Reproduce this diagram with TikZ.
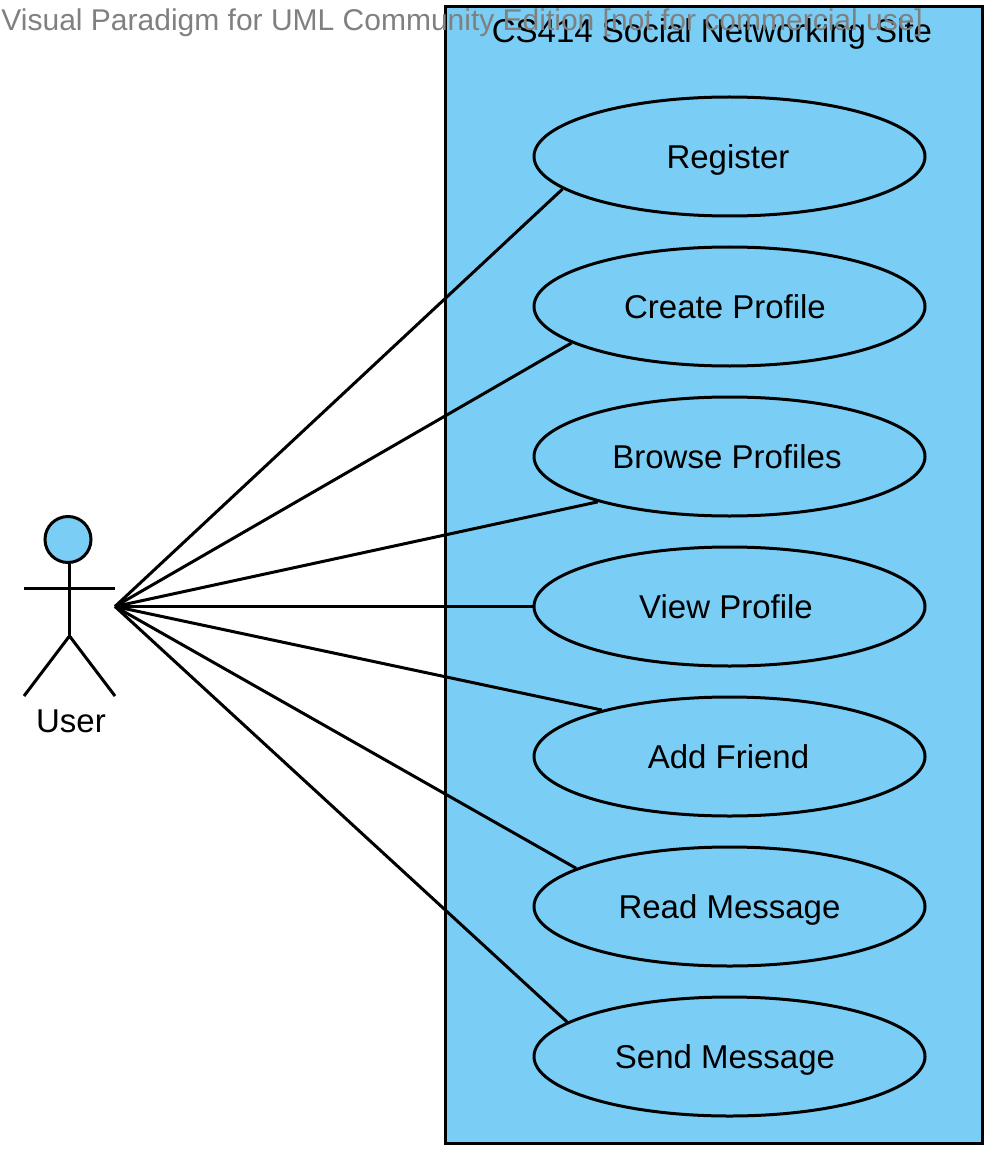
\documentclass[tikz,border=0pt]{standalone}
\usepackage{fontspec}
\setmainfont{Liberation Sans}
\usetikzlibrary{shapes.geometric}
\definecolor{usecaseblue}{RGB}{122,206,246}
\begin{document}
\begin{tikzpicture}
[x=1pt,y=-1pt,line width=3pt,
  systemdecorate/.style={draw,fill=usecaseblue,minimum width=537pt,minimum height=1136pt,inner sep=0pt},%
  usecasedecorate/.style={shape=ellipse,draw,fill=usecaseblue,minimum width=391pt,minimum height=119pt,inner sep=0pt},%
  headdecorate/.style={shape=circle,draw,fill=usecaseblue,minimum size=46pt,inner sep=0pt},%
  labeldecorate/.style={inner sep=0pt,anchor=base,font=\fontsize{33}{36}\selectfont},%
  linedecorate/.style={-}]
\useasboundingbox (0,0) rectangle (996,1158);
%% system boundary
\node (system) at (713.5,575) [systemdecorate] {};
\node (title) at (712,43) [labeldecorate] {CS414 Social Networking Site};
%% use cases
\foreach \nodename/\y/\dx/\text in {
  register/156.5/-1.5/Register, create/306.5/-4.5/Create Profile, browse/456.5/-2.5/Browse Profiles,
  view/606.5/-3.5/View Profile, add/756.5/-1/Add Friend, read/906.5/0/Read Message, send/1056.5/-4.5/Send Message}
{
  \node (\nodename) at (729.5,\y) [usecasedecorate] {};
  \node (\nodename text) at ([xshift=\dx pt,yshift=-12pt]\nodename.center) [labeldecorate] {\text};
}
%% actor
\node (head) at (68,539.5) [headdecorate] {};
\coordinate (hip) at (69.5,636);
\coordinate (armleft) at (24,588.5);
\coordinate (armright) at (115,588.5);
\coordinate (footleft) at (24,696);
\coordinate (footright) at (115,696);
\coordinate (hand) at (115,606.5);
\node (user) at (71,732) [labeldecorate] {User};
\draw (head.south -| hip) -- (hip);
\draw (armleft) -- (armright);
\draw (footleft) -- (hip) -- (footright);
%% edges or lines
\path
\foreach \endnode/\angle in {register/191.3, create/193.1, browse/199.2, view/180, add/160.8, read/166.9, send/168.7} {
  (hand) edge[linedecorate] (\endnode.\angle)
};
%% watermark
\node (watermark) at (0,31) [anchor=base west,inner sep=0pt,text=gray,font=\fontsize{30}{34}\selectfont] {Visual Paradigm for UML Community Edition [not for commercial use]};
\end{tikzpicture}
\end{document}
